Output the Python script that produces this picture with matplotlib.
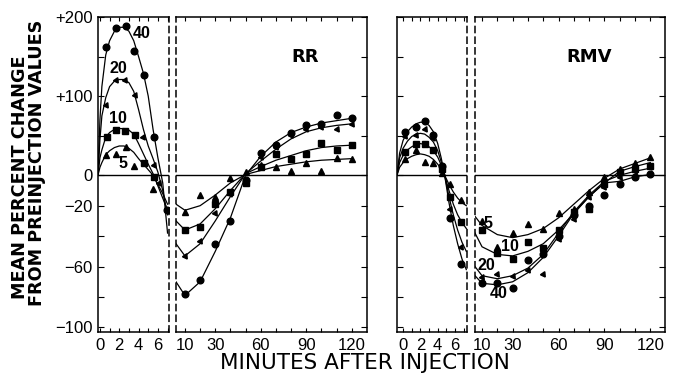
import matplotlib.pyplot as plt
import numpy as np

plt.rcParams['font.family'] = ['Liberation Sans', 'DejaVu Sans']

# ---------------- data ----------------
# early phase (minutes during infusion), fitted curves
rr_early_t = [-0.2, 0, 0.2, 0.6, 1.0, 1.5, 2.0, 2.5, 3.0, 3.5, 4.0, 4.5, 5.0, 5.5, 6.0, 6.5, 7.0]
rr_early_40 = [0, 70, 112, 152, 170, 182, 187, 187, 182, 170, 150, 129, 100, 58, 22, -5, -38]
rr_early_20 = [0, 45, 75, 98, 112, 119, 121, 121, 117, 106, 83, 58, 37, 21, 4, -10, -26]
rr_early_10 = [0, 22, 32, 48, 54, 58, 59, 59, 57, 52, 40, 27, 14, 2, -7, -15, -23]
rr_early_5 = [0, 10, 16, 26, 31, 35, 37, 37, 34, 29, 21, 14, 7, 0, -6, -12, -19]

# early phase, measured points
rr_pts_t40 = [0.6, 1.7, 2.7, 3.5, 4.6, 5.6, 6.9]
rr_pts_40 = [162, 186, 188, 157, 127, 48, -23]
rr_pts_t20 = [0.6, 1.7, 2.6, 3.6, 4.5, 5.6, 6.1]
rr_pts_20 = [89, 120, 120, 101, 48, 13, -5]
rr_pts_t10 = [0.7, 1.7, 2.6, 3.6, 4.6, 5.6]
rr_pts_10 = [48, 57, 56, 51, 16, -1]
rr_pts_t5 = [0.6, 1.7, 2.7, 3.5, 5.5]
rr_pts_5 = [25, 27, 36, 12, -9]

# late phase (minutes after injection), fitted curves
rr_late_t = [4.1, 10, 20, 30, 40, 50, 60, 70, 80, 90, 100, 110, 120]
rr_late_40 = [-70, -79, -70, -50, -28, 0, 24, 42, 54, 61, 66, 69, 72]
rr_late_20 = [-45, -53, -45, -30, -14, 2, 18, 33, 46, 55, 60, 63, 65]
rr_late_10 = [-30, -36, -32, -22, -10, 2, 11, 19, 25, 31, 35, 37, 38]
rr_late_5 = [-19, -23, -20, -13, -5, 1, 6, 11, 14, 17, 19, 20, 21]

# late phase, measured points
late_pts_t = [10, 20, 30, 40, 50, 60, 70, 80, 90, 100, 110, 120]
rr_late_pts_40 = [-78, -69, -45, -30, -3, 28, 38, 53, 63, 65, 76, 72]
rr_late_pts_20 = [-53, -43, -25, -12, -4, 23, 36, 51, 59, 61, 58, 65]
rr_late_pts_10 = [-36, -34, -19, -11, -5, 10, 27, 21, 27, 41, 32, 38]
rr_late_pts_5 = [-24, -13, -14, -2, 4, 13, 10, 5, 15, 5, 22, 21]

# RMV early phase curves
rmv_early_t = [-0.7, -0.4, 0, 0.5, 1.0, 1.5, 2.0, 2.5, 3.0, 3.5, 4.0, 4.4, 4.8, 5.3, 5.8, 6.3, 6.8, 7.3]
rmv_early_40 = [0, 28, 44, 55, 61, 65, 67, 67, 63, 55, 40, 22, 0, -18, -33, -45, -55, -62]
rmv_early_20 = [0, 22, 34, 43, 49, 52, 53, 52, 48, 42, 31, 17, 0, -14, -26, -36, -44, -50]
rmv_early_10 = [0, 16, 25, 32, 36, 39, 40, 39, 36, 31, 23, 13, 0, -10, -19, -26, -31, -35]
rmv_early_5 = [0, 10, 16, 21, 24, 26, 27, 26, 24, 20, 14, 8, 0, -6, -11, -15, -18, -20]

rmv_pts_t = [0.2, 1.5, 2.5, 3.4, 4.5, 5.4, 6.7]
rmv_pts_40 = [55, 61, 69, 51, 12, -28, -58]
rmv_pts_20 = [49, 51, 58, 47, 10, -22, -47]
rmv_pts_10 = [30, 40, 40, 32, 8, -14, -31]
rmv_pts_5 = [20, 32, 17, 15, 3, -6, -16]

# RMV late phase curves
rmv_late_t = [5.4, 10, 20, 30, 40, 50, 60, 70, 80, 90, 100, 110, 120]
rmv_late_40 = [-66, -71, -72, -70, -64, -54, -40, -25, -14, -5, -4, -1, 1]
rmv_late_20 = [-60, -66, -68, -66, -61, -52, -38, -24, -13, -4, 0, 5, 9]
rmv_late_10 = [-38, -47, -52, -53, -50, -45, -36, -25, -14, -5, 5, 11, 16]
rmv_late_5 = [-27, -33, -39, -41, -39, -35, -28, -19, -10, -2, 8, 15, 22]

rmv_late_pts_40 = [-71, -71, -74, -56, -52, -40, -26, -20, -13, -6, -1, 1]
rmv_late_pts_20 = [-67, -65, -66, -62, -65, -42, -29, -14, -8, -1, 5, 10]
rmv_late_pts_10 = [-36, -51, -55, -44, -48, -36, -24, -22, -6, 4, 8, 12]
rmv_late_pts_5 = [-30, -47, -38, -32, -35, -25, -22, -11, -1, 8, 15, 23]

doses = ['40', '20', '10', '5']
markers = {'40': ('o', 4.8), '20': ((3, 0, -25), 4.4), '10': ('s', 4.4), '5': ('^', 4.0)}


# positive values are drawn on a compressed scale
def fwd(v):
    v = np.asarray(v, float)
    return np.where(v > 0, v * 0.52, v)


def inv(v):
    v = np.asarray(v, float)
    return np.where(v > 0, v / 0.52, v)


W, H = 673, 375
fig = plt.figure(figsize=(W / 100, H / 100), dpi=100)


def make_axes(x0, x1, xlim, dashed_side):
    ax = fig.add_axes([x0 / W, 1 - 332 / H, (x1 - x0) / W, (332 - 17) / H])
    ax.set_yscale('function', functions=(fwd, inv))
    ax.set_ylim(-103, 200)
    ax.set_xlim(*xlim)
    ax.axhline(0, color='black', lw=1.0)
    for s in ax.spines.values():
        s.set_linewidth(1.1)
    ax.spines[dashed_side].set_linestyle((0, (4, 3)))
    ax.set_yticks([-100, -80, -60, -40, -20, 0, 50, 100, 150, 200])
    ax.tick_params(axis='both', direction='in', labelsize=12, width=0.8)
    ax.tick_params(axis='y', length=4, pad=4)
    ax.tick_params(axis='x', length=3, pad=4, top=True)
    return ax


axA = make_axes(98, 169, (-0.2, 7.15), 'right')
axB = make_axes(176, 367, (4.1, 130.1), 'left')
axC = make_axes(397, 467, (-0.7, 7.38), 'right')
axD = make_axes(475, 665, (5.4, 129.6), 'left')

for ax in (axA, axC):
    ax.set_xticks(range(0, 8))
    ax.set_xticklabels(['0', '', '2', '', '4', '', '6', ''])
for ax in (axB, axD):
    ax.set_xticks(range(10, 121, 10))
    ax.set_xticklabels(['10', '', '30', '', '', '60', '', '', '90', '', '', '120'])

axA.set_yticklabels(['\u2212100', '', '\u221260', '', '\u221220', '0', '', '+100', '', '+200'])
axA.tick_params(axis='y', left=True, right=False)
axC.tick_params(axis='y', left=True, right=False, labelleft=False)
for ax in (axB, axD):
    ax.tick_params(axis='y', left=False, right=True, labelleft=False)


def draw(ax, t, curve, pt_t, pts, dose):
    ax.plot(t, curve, color='black', lw=0.9)
    m, ms = markers[dose]
    ax.plot(pt_t, pts, ls='none', marker=m, ms=ms, color='black')


draw(axA, rr_early_t, rr_early_40, rr_pts_t40, rr_pts_40, '40')
draw(axA, rr_early_t, rr_early_20, rr_pts_t20, rr_pts_20, '20')
draw(axA, rr_early_t, rr_early_10, rr_pts_t10, rr_pts_10, '10')
draw(axA, rr_early_t, rr_early_5, rr_pts_t5, rr_pts_5, '5')

draw(axB, rr_late_t, rr_late_40, late_pts_t, rr_late_pts_40, '40')
draw(axB, rr_late_t, rr_late_20, late_pts_t, rr_late_pts_20, '20')
draw(axB, rr_late_t, rr_late_10, late_pts_t, rr_late_pts_10, '10')
draw(axB, rr_late_t, rr_late_5, late_pts_t, rr_late_pts_5, '5')

draw(axC, rmv_early_t, rmv_early_40, rmv_pts_t, rmv_pts_40, '40')
draw(axC, rmv_early_t, rmv_early_20, rmv_pts_t, rmv_pts_20, '20')
draw(axC, rmv_early_t, rmv_early_10, rmv_pts_t, rmv_pts_10, '10')
draw(axC, rmv_early_t, rmv_early_5, rmv_pts_t, rmv_pts_5, '5')

draw(axD, rmv_late_t, rmv_late_40, late_pts_t, rmv_late_pts_40, '40')
draw(axD, rmv_late_t, rmv_late_20, late_pts_t, rmv_late_pts_20, '20')
draw(axD, rmv_late_t, rmv_late_10, late_pts_t, rmv_late_pts_10, '10')
draw(axD, rmv_late_t, rmv_late_5, late_pts_t, rmv_late_pts_5, '5')

# dose labels
lab = dict(fontsize=11.5, fontweight='bold', ha='center', va='center')
axA.text(4.3, 179, '40', **lab)
axA.text(1.9, 135, '20', **lab)
axA.text(1.9, 72, '10', **lab)
axA.text(2.4, 15, '5', **lab)
axD.text(14.2, -32, '5', **lab)
axD.text(28.3, -47, '10', **lab)
axD.text(13.1, -59, '20', **lab)
axD.text(21.2, -78, '40', **lab)

axB.text(89, 149, 'RR', family='DejaVu Sans', fontsize=13, fontweight='bold', ha='center', va='center')
axD.text(80, 149, 'RMV', family='DejaVu Sans', fontsize=13, fontweight='bold', ha='center', va='center')

fig.text(20 / W, 1 - 177 / H, 'MEAN PERCENT CHANGE', family='DejaVu Sans', fontsize=12.7,
         fontweight='bold', rotation=90, ha='center', va='center')
fig.text(37 / W, 1 - 163 / H, 'FROM PREINJECTION VALUES', family='DejaVu Sans', fontsize=12.7,
         fontweight='bold', rotation=90, ha='center', va='center')
fig.text(365 / W, 1 - 363 / H, 'MINUTES AFTER INJECTION', family='DejaVu Sans', fontsize=15.5,
         ha='center', va='center')

fig.savefig('out.png', dpi=100)
